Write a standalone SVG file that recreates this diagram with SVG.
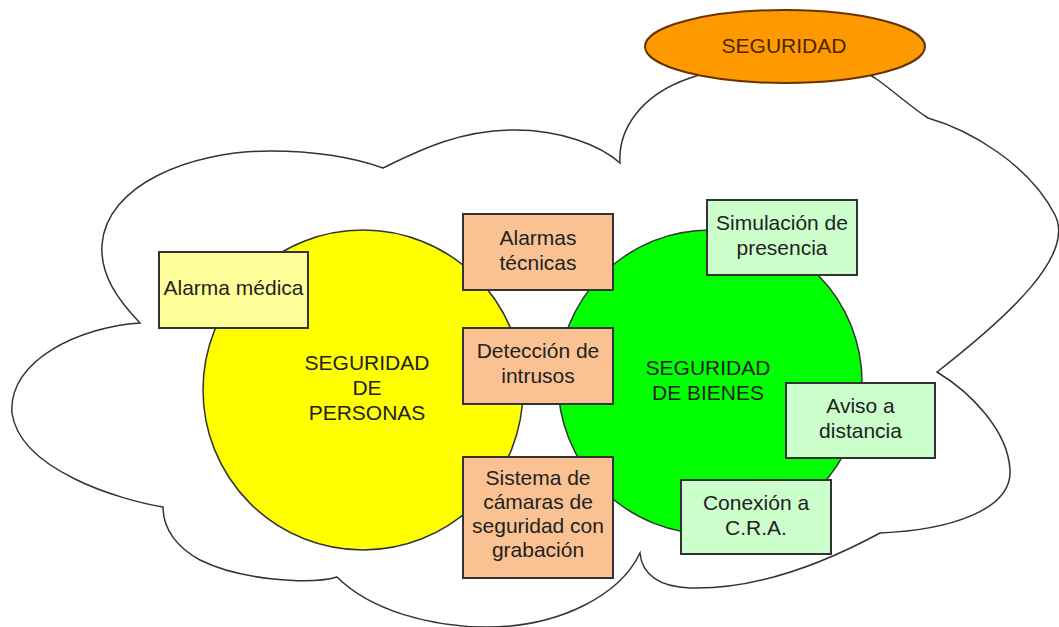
<svg xmlns="http://www.w3.org/2000/svg" width="1059" height="627" viewBox="0 0 1059 627">
<style>
text{font-family:"Liberation Sans",Arial,sans-serif;font-size:21px;fill:#222;text-anchor:middle}
.box{stroke:#333;stroke-width:2}
.peach{fill:#FAC292}
.lg{fill:#CCFFCC}
.ly{fill:#FFFF99}
.circ{stroke:#333;stroke-width:1.5}
</style>
<rect width="1059" height="627" fill="#fff"/>
<g id="cloud">
<path d="M140,323 C118,300 100,275 102,245 C106,185 190,151 270,151 C320,151 355,158 383,168 C420,150 460,130 515,130 C560,130 600,145 620,163 C618,130 640,95 690,78 C740,60 830,50 875,78 C895,92 912,108 928,118 C970,130 1030,165 1055,215 C1075,255 1010,315 937,372 C970,392 1008,430 1010,470 C1012,510 950,530 880,533 C830,560 760,590 690,588 C660,587 642,575 640,553 C620,595 560,627 487,627 C430,627 370,610 337,577 C310,585 240,580 200,560 C178,548 163,530 163,507 C120,500 20,470 12,413 C8,360 80,327 140,323 Z" fill="#fff" stroke="#333" stroke-width="1.5" stroke-linejoin="miter"/>
</g>
<g id="seguridad">
<ellipse cx="785" cy="46.5" rx="140" ry="36.5" fill="#FF9900" stroke="#663300" stroke-width="2"/>
<text x="784" y="53" style="fill:#4d2600">SEGURIDAD</text>
</g>
<g id="personas">
<circle cx="363" cy="390" r="160" class="circ" fill="#FFFF00"/>
<text x="367" y="370">SEGURIDAD</text>
<text x="367" y="395">DE</text>
<text x="367" y="420">PERSONAS</text>
</g>
<g id="bienes">
<circle cx="710" cy="382" r="152" class="circ" fill="#00FF00"/>
<text x="708" y="375">SEGURIDAD</text>
<text x="708" y="400">DE BIENES</text>
</g>
<g id="alarma-medica">
<rect x="159" y="252" width="149" height="76" class="box ly"/>
<text x="233.5" y="295">Alarma médica</text>
</g>
<g id="alarmas-tecnicas">
<rect x="463" y="214" width="150" height="76" class="box peach"/>
<text x="538" y="245">Alarmas</text>
<text x="538" y="270">técnicas</text>
</g>
<g id="deteccion">
<rect x="463" y="328" width="150" height="76" class="box peach"/>
<text x="538" y="358">Detección de</text>
<text x="538" y="383">intrusos</text>
</g>
<g id="camaras">
<rect x="463" y="457" width="150" height="121" class="box peach"/>
<text x="538" y="485">Sistema de</text>
<text x="538" y="509">cámaras de</text>
<text x="538" y="533">seguridad con</text>
<text x="538" y="557">grabación</text>
</g>
<g id="simulacion">
<rect x="707" y="200" width="150" height="75" class="box lg"/>
<text x="782" y="230">Simulación de</text>
<text x="782" y="255">presencia</text>
</g>
<g id="aviso">
<rect x="786" y="383" width="149" height="75" class="box lg"/>
<text x="860.5" y="413">Aviso a</text>
<text x="860.5" y="438">distancia</text>
</g>
<g id="conexion">
<rect x="681" y="480" width="150" height="74" class="box lg"/>
<text x="756" y="510">Conexión a</text>
<text x="756" y="535">C.R.A.</text>
</g>
<g id="connectors"/>
</svg>
